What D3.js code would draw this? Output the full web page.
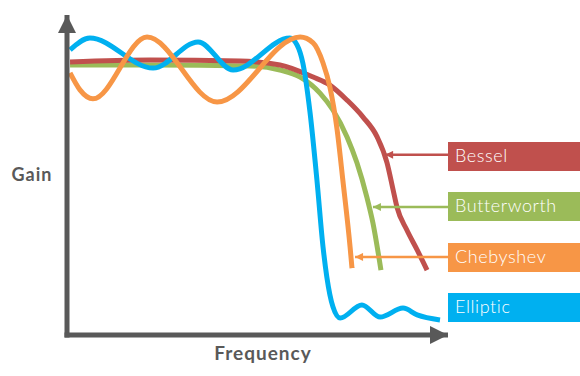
<!DOCTYPE html>
<html>
<head>
<meta charset="utf-8">
<script src="https://cdn.jsdelivr.net/npm/d3@7/dist/d3.min.js"></script>
<style>
  html, body { margin: 0; padding: 0; background: #fff; }
  svg { display: block; }
</style>
</head>
<body>
<div id="chart"></div>
<script>
// Filter response curves (frequency 0-100, gain 0-100, arbitrary units)
const filterNames = ['Bessel', 'Butterworth', 'Chebyshev', 'Elliptic'];

const bessel = [
  [0.8, 85.3], [21.8, 85.9], [45.4, 85.6], [55.9, 84.4], [64.6, 80.6],
  [69.0, 78.1], [73.5, 73.4], [77.7, 68.1], [81.4, 61.9], [84.0, 53.8],
  [85.6, 45.3], [86.6, 40.0], [89.2, 32.8], [91.9, 26.6], [94.5, 20.3]
];

const butterworth = [
  [0.8, 84.4], [21.8, 84.4], [48.0, 84.1], [55.9, 82.8], [61.2, 80.6],
  [66.4, 75.6], [69.8, 70.3], [73.5, 61.9], [76.1, 53.8], [78.7, 43.1],
  [80.3, 35.0], [82.4, 20.3]
];

const chebyshev = [
  [0.8, 81.9], [3.4, 76.6], [6.8, 73.8], [21.0, 93.1], [39.4, 72.8],
  [61.2, 93.1], [64.6, 91.3], [67.2, 85.0], [69.0, 77.5], [70.9, 64.1],
  [72.4, 48.4], [74.3, 27.5], [74.8, 20.9]
];

const elliptic = [
  [0.8, 89.1], [6.0, 92.8], [22.6, 83.4], [34.4, 91.6], [43.6, 82.8],
  [58.5, 92.8], [60.4, 90.6], [61.9, 85.0], [63.8, 69.4], [65.6, 48.4],
  [67.2, 27.5], [68.2, 18.1], [69.8, 8.8], [71.7, 5.3], [77.4, 9.4],
  [82.2, 5.6], [88.2, 8.4], [91.9, 6.3], [97.9, 4.7]
];

// where each label's arrow points (frequency, gain)
const arrowTargets = [[83.5, 56.3], [80.3, 40.0], [75.6, 24.4], null];

const colors = ['#C0504D', '#9BBB59', '#F79646', '#00B0F0'];
const seriesData = [bessel, butterworth, chebyshev, elliptic];

const width = 580, height = 376;
const axisColor = '#595959';

const svg = d3.select('#chart').append('svg')
  .attr('width', width)
  .attr('height', height);

const x = d3.scaleLinear().domain([0, 100]).range([67, 448]);
const y = d3.scaleLinear().domain([0, 100]).range([335, 15]);

// Arrow markers
const defs = svg.append('defs');
defs.append('marker')
  .attr('id', 'axis-head')
  .attr('viewBox', '0 0 10 10')
  .attr('refX', 10).attr('refY', 5)
  .attr('markerUnits', 'userSpaceOnUse')
  .attr('markerWidth', 18).attr('markerHeight', 18)
  .attr('orient', 'auto')
  .append('path')
  .attr('d', 'M0,0 L10,5 L0,10 Z')
  .attr('fill', axisColor);

colors.forEach((c, i) => {
  defs.append('marker')
    .attr('id', `ann-head-${i}`)
    .attr('viewBox', '0 0 10 10')
    .attr('refX', 10).attr('refY', 5)
    .attr('markerUnits', 'userSpaceOnUse')
    .attr('markerWidth', 9).attr('markerHeight', 8)
    .attr('orient', 'auto')
    .append('path')
    .attr('d', 'M0,0 L10,5 L0,10 Z')
    .attr('fill', c);
});

// Curves (drawn so orange ends on top, as in the original)
const line = d3.line()
  .x(d => x(d[0]))
  .y(d => y(d[1]))
  .curve(d3.curveMonotoneX);

const drawOrder = [1, 0, 3, 2];
drawOrder.forEach(i => {
  svg.append('path')
    .datum(seriesData[i])
    .attr('class', `line series-${i}`)
    .attr('fill', 'none')
    .attr('stroke', colors[i])
    .attr('stroke-width', 5)
    .attr('stroke-linecap', 'butt')
    .attr('stroke-linejoin', 'round')
    .attr('d', line);
});

// Axes with arrow heads
svg.append('line')
  .attr('x1', x(0)).attr('y1', y(0) + 2.5)
  .attr('x2', x(0)).attr('y2', y(100))
  .attr('stroke', axisColor)
  .attr('stroke-width', 5)
  .attr('marker-end', 'url(#axis-head)');

svg.append('line')
  .attr('x1', x(0) - 2.5).attr('y1', y(0))
  .attr('x2', x(100)).attr('y2', y(0))
  .attr('stroke', axisColor)
  .attr('stroke-width', 5)
  .attr('marker-end', 'url(#axis-head)');

// Axis titles
svg.append('text')
  .attr('x', 32).attr('y', 176)
  .attr('text-anchor', 'middle')
  .attr('dominant-baseline', 'middle')
  .attr('font-family', 'Lato, sans-serif')
  .attr('font-weight', 'bold')
  .attr('font-size', 18)
  .attr('letter-spacing', 1)
  .attr('fill', axisColor)
  .text('Gain');

svg.append('text')
  .attr('x', 263).attr('y', 355)
  .attr('text-anchor', 'middle')
  .attr('dominant-baseline', 'middle')
  .attr('font-family', 'Lato, sans-serif')
  .attr('font-weight', 'bold')
  .attr('font-size', 19)
  .attr('letter-spacing', 1)
  .attr('fill', axisColor)
  .text('Frequency');

// Legend boxes with annotation arrows
const boxX = 448, boxW = 132, boxH = 29;
const boxTops = [142, 192, 243, 293];

filterNames.forEach((name, i) => {
  const g = svg.append('g').attr('class', 'legend-item');
  g.append('rect')
    .attr('x', boxX).attr('y', boxTops[i])
    .attr('width', boxW).attr('height', boxH)
    .attr('fill', colors[i]);
  g.append('text')
    .attr('x', boxX + 7).attr('y', boxTops[i] + boxH / 2 + 1)
    .attr('dominant-baseline', 'middle')
    .attr('font-family', 'Lato, sans-serif')
    .attr('font-weight', 300)
    .attr('font-size', 18)
    .attr('letter-spacing', 0.6)
    .attr('fill', '#fff')
    .text(name);

  const t = arrowTargets[i];
  if (t) {
    svg.append('line')
      .attr('x1', boxX).attr('y1', y(t[1]))
      .attr('x2', x(t[0])).attr('y2', y(t[1]))
      .attr('stroke', colors[i])
      .attr('stroke-width', 2.5)
      .attr('marker-end', `url(#ann-head-${i})`);
  }
});
</script>
</body>
</html>
